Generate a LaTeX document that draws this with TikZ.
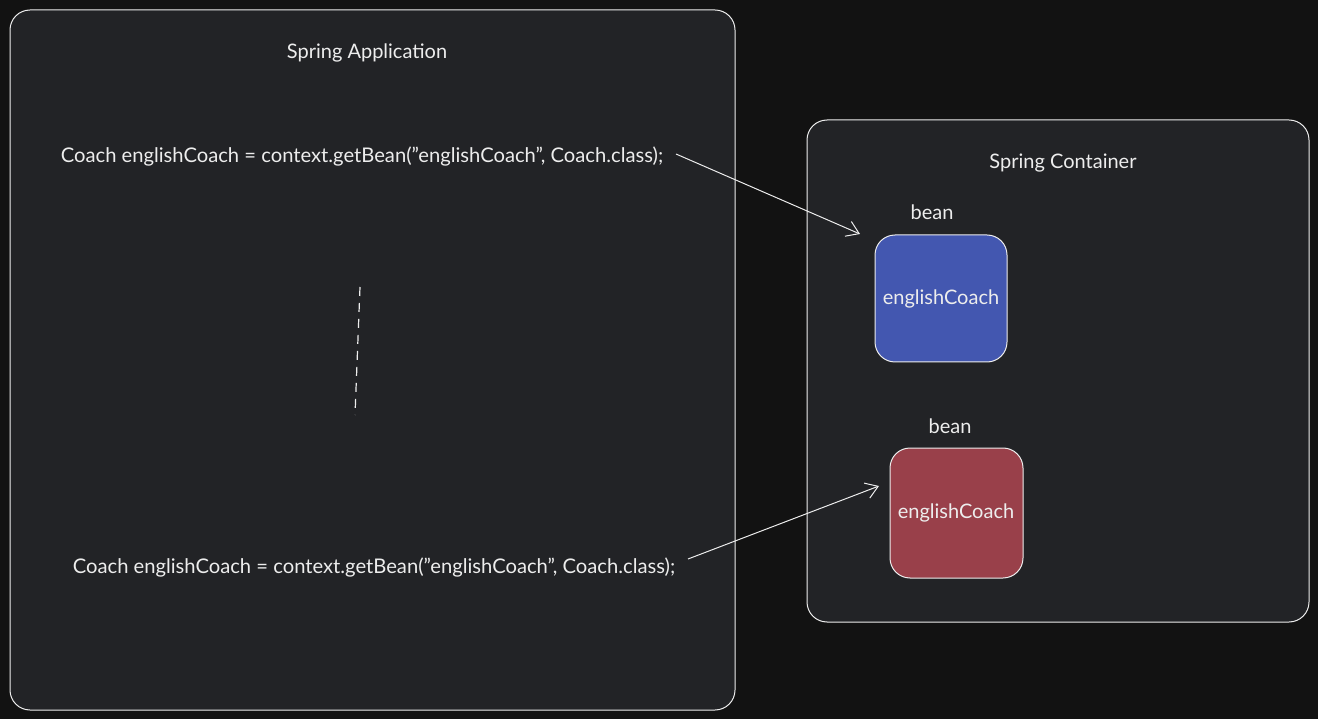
\documentclass[tikz,border=0pt]{standalone}
\usepackage{fontspec}
\setmainfont{Lato}
\usetikzlibrary{arrows.meta}
\definecolor{bg}{HTML}{121212}
\definecolor{panel}{HTML}{222326}
\definecolor{bluefill}{HTML}{4357B0}
\definecolor{redfill}{HTML}{99404A}
\definecolor{ink}{HTML}{EDEDED}
\newcommand{\dq}{\char"22\relax}
\tikzset{
  panelbox/.style={draw=ink, line width=1pt, fill=panel, rounded corners=20pt},
  beanbox/.style={draw=ink, line width=1pt, rounded corners=20pt},
  lbl/.style={text=ink, font=\fontsize{20}{24}\selectfont, inner sep=0pt},
  code/.style={text=ink, font=\fontsize{20.2}{24}\selectfont, inner sep=0pt},
  conn/.style={draw=ink, line width=1pt, -{Straight Barb[length=12pt,width=16pt]}},
}
\begin{document}
\begin{tikzpicture}[x=1pt,y=-1pt]
\fill[bg] (0,0) rectangle (1318,719);
\useasboundingbox (0,0) rectangle (1318,719);
% panels
\draw[panelbox] (10,10) rectangle (735,710);
\draw[panelbox] (807,120) rectangle (1309,622);
% beans
\draw[beanbox, fill=bluefill] (875,235) rectangle (1007,362);
\draw[beanbox, fill=redfill] (890,448) rectangle (1023,578);
% titles
\node[lbl] (app) at (367,53) {Spring Application};
\node[lbl] (cont) at (1063,163) {Spring Container};
\node[lbl] (bean1) at (932,212) {bean};
\node[lbl] (bean2) at (950,426) {bean};
\node[lbl] (ec1) at (941,299) {englishCoach};
\node[lbl] (ec2) at (956,513) {englishCoach};
% code lines
\node[code] (c1) at (362,157) {Coach englishCoach = context.getBean(\dq englishCoach\dq, Coach.class);};
\node[code] (c2) at (374,568) {Coach englishCoach = context.getBean(\dq englishCoach\dq, Coach.class);};
% connectors
\coordinate (a1s) at (676,154);
\coordinate (a1e) at (860,234);
\coordinate (a2s) at (688,559);
\coordinate (a2e) at (879,486);
\draw[conn] (a1s) -- (a1e);
\draw[conn] (a2s) -- (a2e);
% dashed
\coordinate (d1) at (360,287);
\coordinate (d2) at (355,415);
\draw[draw=ink, line width=1.2pt, dash pattern=on 9pt off 7pt] (d1) -- (d2);
\end{tikzpicture}
\end{document}
